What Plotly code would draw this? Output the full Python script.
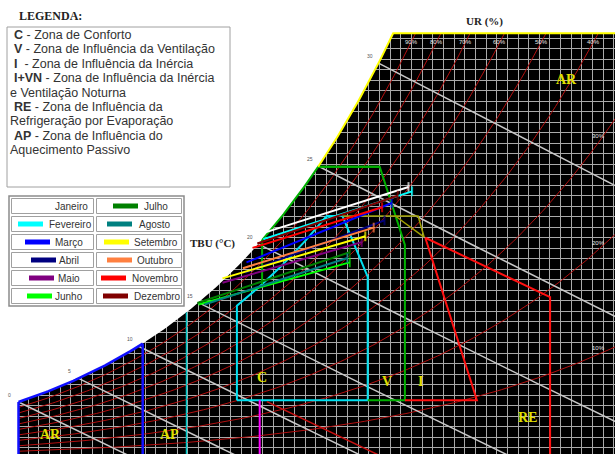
import numpy as np
import plotly.graph_objects as go

# ---------------- data ----------------
months = ["Janeiro", "Fevereiro", "Março", "Abril", "Maio", "Junho",
          "Julho", "Agosto", "Setembro", "Outubro", "Novembro", "Dezembro"]
month_colors = ["#ffffff", "#00ffff", "#0000ff", "#000080", "#800080", "#00ff00",
                "#008000", "#008080", "#ffff00", "#ff8040", "#ff0000", "#800000"]
# monthly lines: (dry bulb °C, humidity ratio g/kg) at the cold and warm ends
t_min = [20.3, 20.4, 19.0, 18.9, 17.0, 15.0, 14.9, 15.5, 17.0, 18.7, 19.5, 19.9]
w_min = [15.4, 15.0, 13.4, 12.7, 12.0, 10.5, 10.6, 10.5, 12.3, 13.0, 14.4, 14.7]
t_max = [32.5, 32.8, 31.1, 30.5, 28.6, 27.6, 27.6, 27.4, 28.9, 29.6, 30.3, 31.6]
w_max = [18.6, 18.3, 17.5, 16.3, 14.8, 13.4, 14.1, 13.7, 15.2, 15.8, 17.2, 18.0]

rh_levels = [10, 20, 30, 40, 50, 60, 70, 80, 90]
rh_top_labels = [90, 80, 70, 60, 50, 40]
rh_side_labels = [30, 20, 10]
wet_bulb_levels = [0, 5, 10, 15, 20, 25, 30]

W_TOP = 29.2          # upper humidity-ratio limit of the chart (g/kg)
T_LEFT = 0.0          # lower dry-bulb limit (°C)
T_RIGHT = 50.0

# zone boundaries (dry bulb °C, humidity ratio g/kg)
conf_t = [18.2, 29.1, 29.1, 27.0]
conf_w = [3.9, 3.9, 12.4, 16.6]
conf_rh = 0.80
vent_t = [30.1, 32.2, 32.2, 29.1]
vent_w = [20.0, 14.6, 3.9, 3.9]
vent_left_t = 20.3
vent_top_w = 20.0
iner_t = [32.2, 38.2, 33.9]
iner_w = [3.9, 3.9, 15.1]
ivn_t = [27.0, 33.3, 33.8, 31.4]
ivn_w = [16.6, 16.6, 15.15, 16.6]
re_t = [33.9, 44.3, 44.3]
re_w = [15.1, 11.0, 0.0]
re_low_t = [20.7, 30.3]
re_low_w = [3.8, 0.0]
ap_left_t = 10.35
ap_mid_t = 14.0
mag_t = [20.1, 20.1]
mag_w = [3.9, 0.0]

# ---------------- psychrometrics ----------------
P_ATM = 101.325


def p_ws(t):
    return 0.61094 * np.exp(17.625 * t / (t + 243.04))


def w_rh(t, rh):
    pw = rh * p_ws(t)
    return 622.0 * pw / (P_ATM - pw)


def w_wb(t, twb):
    ws = w_rh(twb, 1.0) / 1000.0
    return 1000.0 * ((2501 - 2.326 * twb) * ws - 1.006 * (t - twb)) / (2501 + 1.86 * t - 4.186 * twb)


def t_at_w(w, rh=1.0):
    lo, hi = -20.0, 90.0
    for _ in range(80):
        mid = 0.5 * (lo + hi)
        if w_rh(mid, rh) < w:
            lo = mid
        else:
            hi = mid
    return 0.5 * (lo + hi)


T_TOP = t_at_w(W_TOP)

# axis ranges chosen so that 1 °C = 12 px and 1 g/kg = 14.5 px
X_RANGE = [-18.5 / 12, 596.5 / 12]
Y_RANGE = [2.7 / 14.5, 456.7 / 14.5]


def px(x):
    return x / 615.0


def py(y):
    return 1 - y / 454.0


fig = go.Figure()


def line(xs, ys, color, width=1.0, dash=None):
    fig.add_trace(go.Scatter(x=list(xs), y=list(ys), mode="lines",
                             line=dict(color=color, width=width, dash=dash),
                             hoverinfo="skip"))


# white area outside the chart (covers grid)
t_sat = np.linspace(T_LEFT, T_TOP, 120)
mask_x = [X_RANGE[0] - 1, T_LEFT, T_LEFT] + list(t_sat) + [X_RANGE[1] + 1, X_RANGE[1] + 1, X_RANGE[0] - 1]
mask_y = [Y_RANGE[0] - 1, Y_RANGE[0] - 1, w_rh(T_LEFT, 1.0)] + list(w_rh(t_sat, 1.0)) + [W_TOP, Y_RANGE[1] + 1, Y_RANGE[1] + 1]
fig.add_trace(go.Scatter(x=mask_x, y=mask_y, mode="lines", fill="toself",
                         fillcolor="white", line=dict(width=0), hoverinfo="skip"))

# relative humidity curves
for rh in rh_levels:
    t_end = min(t_at_w(W_TOP, rh / 100), T_RIGHT)
    tt = np.linspace(T_LEFT, t_end, 150)
    line(tt, w_rh(tt, rh / 100), "#b40f0f", 1.0)

# wet bulb lines
for twb in wet_bulb_levels:
    tt = np.linspace(twb, T_RIGHT, 200)
    ww = w_wb(tt, twb)
    keep = ww >= 0
    line(tt[keep], ww[keep], "#c8c8c8", 1.5)

# comfort zone
t80 = t_at_w(conf_w[3], conf_rh)
tt = np.linspace(t80, conf_t[0], 40)
line(conf_t + list(tt) + [conf_t[0]], conf_w + list(w_rh(tt, conf_rh)) + [conf_w[0]], "#00e0f0", 2)

# ventilation zone
t20 = t_at_w(vent_top_w)
tt = np.linspace(vent_left_t, t20, 40)
line(list(tt) + vent_t, list(w_rh(tt, 1.0)) + vent_w, "#00b000", 2)
line([vent_left_t, vent_left_t], [w_rh(vent_left_t, 1.0), w_rh(vent_left_t, conf_rh)], "#00b000", 2)
line([t20, vent_t[0]], [vent_top_w, vent_top_w], "#00b000", 2)

# inertia + night ventilation
line(ivn_t[:3], ivn_w[:3], "#a0a000", 1.5)
line(ivn_t[3:] + [ivn_t[2]], ivn_w[3:] + [ivn_w[2]], "#a0a000", 1.5)

# inertia zone
line(iner_t, iner_w, "#ff1010", 2)
# evaporative cooling
line(re_t, re_w, "#ff1010", 2)
line(re_low_t, re_low_w, "#c81010", 1.5)
line(mag_t, mag_w, "#ff00ff", 2)

# heating zones
tt = np.linspace(T_LEFT, ap_left_t, 60)
line(list(tt), list(w_rh(tt, 1.0)), "#1010ff", 2.5)
line([ap_left_t, ap_left_t], [w_rh(ap_left_t, 1.0), 0], "#1010ff", 2.5)
line([T_LEFT, T_LEFT], [w_rh(T_LEFT, 1.0), 0], "#1010ff", 2.5)
line([ap_mid_t, ap_mid_t], [w_rh(ap_mid_t, 1.0), 0], "#00c8c8", 1.5)

# upper zone edges
tt = np.linspace(t20, T_TOP, 50)
line(list(tt) + [X_RANGE[1] + 1], list(w_rh(tt, 1.0)) + [W_TOP], "#ffff00", 2)

# monthly lines
for i, m in enumerate(months):
    fig.add_trace(go.Scatter(
        x=[t_min[i], t_max[i]], y=[w_min[i], w_max[i]], mode="lines+markers",
        line=dict(color=month_colors[i], width=2),
        marker=dict(symbol=["circle", "line-ns"], size=[0, 7],
                    line=dict(color=month_colors[i], width=2), color=month_colors[i]),
        name=m, hoverinfo="skip"))

ann = []
# relative humidity labels
for rh in rh_top_labels:
    ann.append(dict(x=t_at_w(W_TOP - 0.6, rh / 100), y=W_TOP - 0.6, text=f"{rh}%",
                    showarrow=False, yanchor="middle",
                    font=dict(size=6, color="#e6e6e6", family="Liberation Sans")))
for rh in rh_side_labels:
    ann.append(dict(x=48.3, y=float(w_rh(48.3, rh / 100)), yshift=7, text=f"{rh}%",
                    showarrow=False, yanchor="middle",
                    font=dict(size=6, color="#e6e6e6", family="Liberation Sans")))
# wet bulb labels
for twb in wet_bulb_levels:
    ann.append(dict(x=twb - 0.75, y=float(w_rh(twb, 1.0)) + 0.48, text=str(twb),
                    showarrow=False, yanchor="middle",
                    font=dict(size=5, color="#555555", family="Liberation Sans")))

# zone labels
zone_labels = [("AR", 45.7, 26.0), ("C", 20.3, 5.45), ("V", 30.7, 5.2), ("I", 33.5, 5.2),
               ("RE", 42.4, 2.7), ("AR", 2.7, 1.55), ("AP", 12.6, 1.55)]
for txt, tx, ty in zone_labels:
    ann.append(dict(x=tx, y=ty, text=f"<b>{txt}</b>", showarrow=False, yanchor="middle",
                    font=dict(size=14, color="#e0e000", family="Liberation Serif")))

# axis titles
ann.append(dict(xref="paper", yref="paper", x=px(505), y=py(21), text="<b>UR (%)</b>", showarrow=False,
                yanchor="middle", font=dict(size=11, color="#222222", family="Liberation Serif")))
ann.append(dict(xref="paper", yref="paper", x=px(212), y=py(243), text="<b>TBU (°C)</b>", showarrow=False,
                yanchor="middle", font=dict(size=11, color="#222222", family="Liberation Serif")))

# zone legend
ann.append(dict(xref="paper", yref="paper", x=px(17), y=py(16), xanchor="left", yanchor="middle",
                text="<b>LEGENDA:</b>", showarrow=False,
                font=dict(size=12, color="#222222", family="Liberation Serif")))
legend_lines = [("C", " - Zona de Conforto"), ("V", " - Zona de Influência da Ventilação"),
                ("I", "  - Zona de Influência da Inércia"), ("I+VN", " - Zona de Influência da Inércia"),
                ("", "e Ventilação Noturna"), ("RE", " - Zona de Influência da"),
                ("", "Refrigeração por Evaporação"), ("AP", " - Zona de Influência do"),
                ("", "Aquecimento Passivo")]
shapes = [dict(type="rect", xref="paper", yref="paper", x0=px(7), x1=px(230), y0=py(27), y1=py(187),
               line=dict(color="#a0a0a0", width=1), fillcolor="white")]
for k, (b, rest) in enumerate(legend_lines):
    x0 = 12 if b else 8
    txt = (f"<b>{b}</b>" if b else "") + rest
    ann.append(dict(xref="paper", yref="paper", x=px(x0), y=py(35 + 14.4 * k), xanchor="left",
                    yanchor="middle", text=txt, showarrow=False,
                    font=dict(size=12.5, color="#333333", family="Liberation Sans")))

# month legend
cols = [(10, 95), (95, 183)]
row_top, row_h = 197, 18
shapes.append(dict(type="rect", xref="paper", yref="paper", x0=px(9), x1=px(184), y0=py(196), y1=py(306),
                   line=dict(color="#8c8c8c", width=1.5), fillcolor="white"))
sw_x = [20, 18, 25, 31, 29, 27, 113, 107, 104, 107, 101, 103]
tx_x = [53, 47, 53, 57, 56, 53, 142, 137, 132, 135, 130, 132]
for i, m in enumerate(months):
    c, r = divmod(i, 6)
    x0, x1 = cols[c]
    y0 = row_top + r * row_h
    shapes.append(dict(type="rect", xref="paper", yref="paper", x0=px(x0 + 1.5), x1=px(x1 - 1.5),
                       y0=py(y0 + 1.5), y1=py(y0 + row_h - 1.5), line=dict(color="#a0a0a0", width=1)))
    yc = y0 + row_h / 2
    shapes.append(dict(type="line", xref="paper", yref="paper", x0=px(sw_x[i]), x1=px(sw_x[i] + 25),
                       y0=py(yc), y1=py(yc), line=dict(color=month_colors[i], width=5)))
    ann.append(dict(xref="paper", yref="paper", x=px(tx_x[i]), y=py(yc), xanchor="left", yanchor="middle",
                    text=m, showarrow=False, font=dict(size=10, color="#333333", family="Liberation Sans")))

fig.update_layout(
    width=615, height=454, margin=dict(l=0, r=0, t=0, b=0, pad=0), autosize=False,
    plot_bgcolor="black", paper_bgcolor="white", showlegend=False,
    xaxis=dict(range=X_RANGE, showgrid=True, gridcolor="#aaaaaa", gridwidth=1.3,
               tick0=44.29, dtick=10.65 / 12, showticklabels=False, zeroline=False, ticks="",
               showline=False),
    yaxis=dict(range=Y_RANGE, showgrid=True, gridcolor="#aaaaaa", gridwidth=1.3,
               tick0=4.255, dtick=10.5 / 14.5, showticklabels=False, zeroline=False, ticks="",
               showline=False),
    annotations=ann, shapes=shapes,
)
fig.write_html("out.html")
